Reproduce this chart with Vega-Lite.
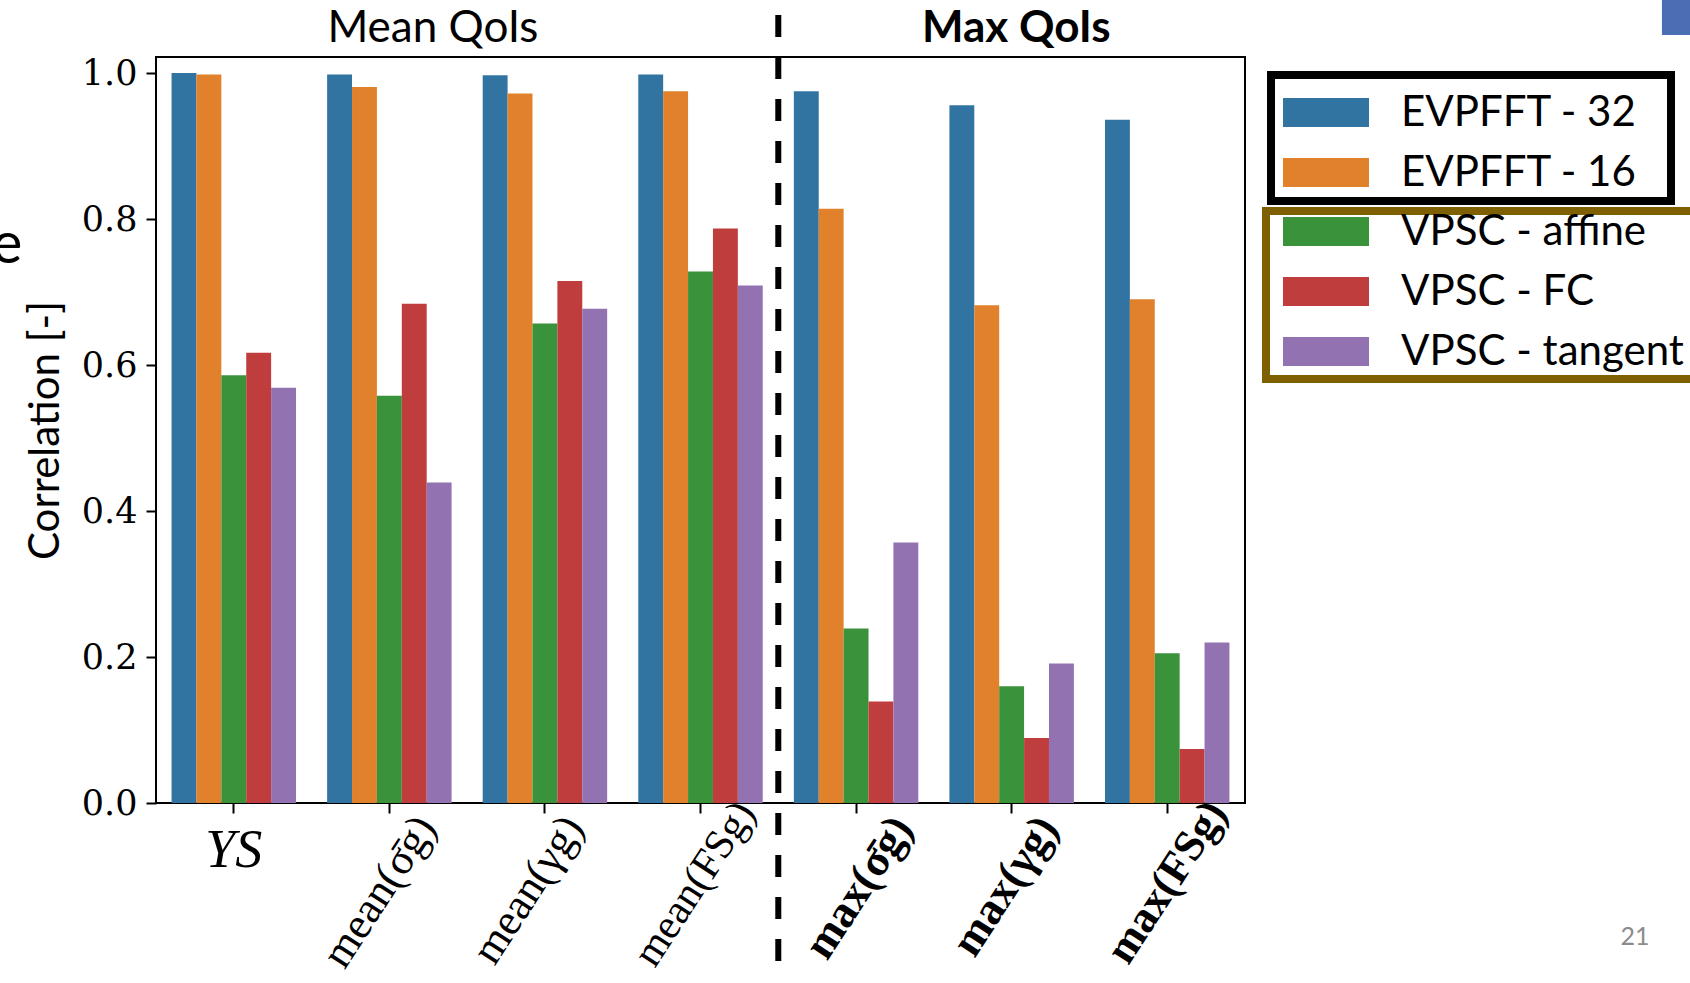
{
  "$schema": "https://vega.github.io/schema/vega-lite/v6.json",
  "autosize": {"type": "none"},
  "width": 1089,
  "height": 746,
  "padding": {"left": 156, "top": 57, "right": 445, "bottom": 180},
  "background": "white",
  "config": {
    "view": {"stroke": "black", "strokeWidth": 2},
    "axis": {"domain": false, "grid": false, "tickColor": "black", "tickWidth": 2, "tickSize": 10, "labelColor": "black", "titleColor": "black"}
  },
  "datasets": {
    "bars": [
      {"qoi": "YS", "series": "EVPFFT - 32", "family": "EVPFFT", "value": 1.0},
      {"qoi": "YS", "series": "EVPFFT - 16", "family": "EVPFFT", "value": 0.998},
      {"qoi": "YS", "series": "VPSC - affine", "family": "VPSC", "value": 0.586},
      {"qoi": "YS", "series": "VPSC - FC", "family": "VPSC", "value": 0.617},
      {"qoi": "YS", "series": "VPSC - tangent", "family": "VPSC", "value": 0.569},
      {"qoi": "mean(\u03c3\u0304g)", "series": "EVPFFT - 32", "family": "EVPFFT", "value": 0.998},
      {"qoi": "mean(\u03c3\u0304g)", "series": "EVPFFT - 16", "family": "EVPFFT", "value": 0.981},
      {"qoi": "mean(\u03c3\u0304g)", "series": "VPSC - affine", "family": "VPSC", "value": 0.558},
      {"qoi": "mean(\u03c3\u0304g)", "series": "VPSC - FC", "family": "VPSC", "value": 0.684},
      {"qoi": "mean(\u03c3\u0304g)", "series": "VPSC - tangent", "family": "VPSC", "value": 0.439},
      {"qoi": "mean(\u03b3g)", "series": "EVPFFT - 32", "family": "EVPFFT", "value": 0.997},
      {"qoi": "mean(\u03b3g)", "series": "EVPFFT - 16", "family": "EVPFFT", "value": 0.972},
      {"qoi": "mean(\u03b3g)", "series": "VPSC - affine", "family": "VPSC", "value": 0.657},
      {"qoi": "mean(\u03b3g)", "series": "VPSC - FC", "family": "VPSC", "value": 0.715},
      {"qoi": "mean(\u03b3g)", "series": "VPSC - tangent", "family": "VPSC", "value": 0.677},
      {"qoi": "mean(FSg)", "series": "EVPFFT - 32", "family": "EVPFFT", "value": 0.998},
      {"qoi": "mean(FSg)", "series": "EVPFFT - 16", "family": "EVPFFT", "value": 0.975},
      {"qoi": "mean(FSg)", "series": "VPSC - affine", "family": "VPSC", "value": 0.728},
      {"qoi": "mean(FSg)", "series": "VPSC - FC", "family": "VPSC", "value": 0.787},
      {"qoi": "mean(FSg)", "series": "VPSC - tangent", "family": "VPSC", "value": 0.709},
      {"qoi": "max(\u03c3\u0304g)", "series": "EVPFFT - 32", "family": "EVPFFT", "value": 0.975},
      {"qoi": "max(\u03c3\u0304g)", "series": "EVPFFT - 16", "family": "EVPFFT", "value": 0.814},
      {"qoi": "max(\u03c3\u0304g)", "series": "VPSC - affine", "family": "VPSC", "value": 0.239},
      {"qoi": "max(\u03c3\u0304g)", "series": "VPSC - FC", "family": "VPSC", "value": 0.139},
      {"qoi": "max(\u03c3\u0304g)", "series": "VPSC - tangent", "family": "VPSC", "value": 0.357},
      {"qoi": "max(\u03b3g)", "series": "EVPFFT - 32", "family": "EVPFFT", "value": 0.956},
      {"qoi": "max(\u03b3g)", "series": "EVPFFT - 16", "family": "EVPFFT", "value": 0.682},
      {"qoi": "max(\u03b3g)", "series": "VPSC - affine", "family": "VPSC", "value": 0.16},
      {"qoi": "max(\u03b3g)", "series": "VPSC - FC", "family": "VPSC", "value": 0.089},
      {"qoi": "max(\u03b3g)", "series": "VPSC - tangent", "family": "VPSC", "value": 0.191},
      {"qoi": "max(FSg)", "series": "EVPFFT - 32", "family": "EVPFFT", "value": 0.936},
      {"qoi": "max(FSg)", "series": "EVPFFT - 16", "family": "EVPFFT", "value": 0.69},
      {"qoi": "max(FSg)", "series": "VPSC - affine", "family": "VPSC", "value": 0.205},
      {"qoi": "max(FSg)", "series": "VPSC - FC", "family": "VPSC", "value": 0.074},
      {"qoi": "max(FSg)", "series": "VPSC - tangent", "family": "VPSC", "value": 0.22}
    ]
  },
  "layer": [
    {
      "layer": [
        {
          "data": {"name": "bars"},
          "transform": [{"filter": "datum.family === 'EVPFFT'"}],
          "mark": {"type": "bar"},
          "encoding": {
            "x": {
              "field": "qoi", "type": "nominal",
              "sort": ["YS", "mean(\u03c3\u0304g)", "mean(\u03b3g)", "mean(FSg)", "max(\u03c3\u0304g)", "max(\u03b3g)", "max(FSg)"],
              "scale": {"paddingInner": 0.2, "paddingOuter": 0.1},
              "axis": {
                "title": null, "labelFont": "Liberation Serif",
                "labelLimit": 600, "labelOverlap": false, "labelFlush": false,
                "labelAngle": {"expr": "datum.value === 'YS' ? 0 : -57"},
                "labelAlign": {"condition": {"test": "datum.value === 'YS'", "value": "center"}, "value": "right"},
                "labelBaseline": {"condition": {"test": "datum.value === 'YS'", "value": "top"}, "value": "middle"},
                "labelFontStyle": {"condition": {"test": "datum.value === 'YS'", "value": "italic"}, "value": "normal"},
                "labelFontWeight": {"condition": {"test": "indexof(datum.value, 'max') === 0", "value": "bold"}, "value": "normal"},
                "labelFontSize": {"condition": [{"test": "datum.value === 'YS'", "value": 54}, {"test": "datum.value === 'mean(FSg)'", "value": 42}, {"test": "datum.value === 'max(FSg)'", "value": 44}, {"test": "indexof(datum.value, 'max') === 0", "value": 45}], "value": 44},
                "labelPadding": {"condition": [{"test": "datum.value === 'YS'", "value": 10}, {"test": "indexof(datum.value, 'FS') > 0", "value": -8}], "value": 7},
                "labelOffset": {"condition": [
                  {"test": "datum.value === 'YS'", "value": 0},
                  {"test": "datum.value === 'mean(\u03b3g)'", "value": 29},
                  {"test": "datum.value === 'mean(FSg)'", "value": 45},
                  {"test": "datum.value === 'max(\u03c3\u0304g)'", "value": 46},
                  {"test": "datum.value === 'max(\u03b3g)'", "value": 36},
                  {"test": "datum.value === 'max(FSg)'", "value": 50}
                ], "value": 37}
              }
            },
            "xOffset": {
              "field": "series", "type": "nominal",
              "scale": {"domain": ["EVPFFT - 32", "EVPFFT - 16", "VPSC - affine", "VPSC - FC", "VPSC - tangent"], "paddingInner": 0, "paddingOuter": 0}
            },
            "y": {
              "field": "value", "type": "quantitative",
              "scale": {"domain": [0, 1.022], "nice": false, "zero": true},
              "axis": {
                "title": "Correlation [-]", "titleFont": "Lato", "titleFontSize": 42, "titleFontWeight": "normal", "titlePadding": 14,
                "values": [0, 0.2, 0.4, 0.6, 0.8, 1.0], "format": ".1f",
                "labelFont": "DejaVu Serif", "labelFontSize": 35, "labelPadding": 9
              }
            },
            "color": {
              "field": "series", "type": "nominal",
              "scale": {"domain": ["EVPFFT - 32", "EVPFFT - 16"], "range": ["#3274a1", "#e1812c"]},
              "legend": {
                "title": " ", "titleFontSize": 12, "titlePadding": 4,
                "orient": "none", "legendX": 1115, "legendY": 18,
                "strokeColor": "black", "fillColor": "white", "padding": 7, "cornerRadius": 0,
                "symbolType": "M-1,-0.337H1V0.337H-1Z", "symbolSize": 7396, "symbolStrokeWidth": 0, "symbolOffset": 5,
                "clipHeight": 29, "rowPadding": 17, "labelOffset": 32,
                "labelFont": "Lato", "labelFontSize": 42, "labelColor": "black", "labelLimit": 1000,
                "encode": {
                  "legend": {"update": {"strokeWidth": {"value": 8}}},
                  "entries": {"update": {"width": {"value": 386}}}
                }
              }
            }
          }
        },
        {
          "data": {"name": "bars"},
          "transform": [{"filter": "datum.family === 'VPSC'"}],
          "mark": {"type": "bar"},
          "encoding": {
            "x": {
              "field": "qoi", "type": "nominal",
              "sort": ["YS", "mean(\u03c3\u0304g)", "mean(\u03b3g)", "mean(FSg)", "max(\u03c3\u0304g)", "max(\u03b3g)", "max(FSg)"]
            },
            "xOffset": {"field": "series", "type": "nominal"},
            "y": {"field": "value", "type": "quantitative"},
            "color": {
              "field": "series", "type": "nominal",
              "scale": {"domain": ["VPSC - affine", "VPSC - FC", "VPSC - tangent"], "range": ["#3a923a", "#c03d3e", "#9372b2"]},
              "legend": {
                "title": null, "orient": "none", "legendX": 1110, "legendY": 154,
                "strokeColor": "#7f6000", "fillColor": "white", "padding": 6, "cornerRadius": 0,
                "symbolType": "M-1,-0.337H1V0.337H-1Z", "symbolSize": 7396, "symbolStrokeWidth": 0, "symbolOffset": 11,
                "clipHeight": 29, "rowPadding": 17, "labelOffset": 32,
                "labelFont": "Lato", "labelFontSize": 42, "labelColor": "black", "labelLimit": 1000,
                "encode": {
                  "legend": {"update": {"strokeWidth": {"value": 8}}},
                  "entries": {"update": {"width": {"value": 520}}}
                }
              }
            }
          }
        }
      ],
      "resolve": {"scale": {"color": "independent"}}
    },
    {
      "layer": [
        {
          "data": {"values": [{"xpos": 4, "ytop": 1.0795, "ybottom": -0.2178}]},
          "mark": {"type": "rule", "color": "black", "strokeWidth": 6, "strokeDash": [22, 20], "clip": false},
          "encoding": {
            "x": {"field": "xpos", "type": "quantitative", "scale": {"domain": [0, 7], "nice": false, "zero": false}, "axis": null},
            "y": {"field": "ytop", "type": "quantitative", "scale": {"domain": [0, 1.022], "nice": false}, "axis": null},
            "y2": {"field": "ybottom"}
          }
        },
        {
          "data": {"values": [{"xpos": 1.78, "ypos": 1.06, "label": "Mean QoIs"}]},
          "mark": {"type": "text", "font": "Lato", "fontSize": 44, "color": "black", "align": "center", "baseline": "middle"},
          "encoding": {
            "x": {"field": "xpos", "type": "quantitative"},
            "y": {"field": "ypos", "type": "quantitative"},
            "text": {"field": "label"}
          }
        },
        {
          "data": {"values": [{"xpos": 5.53, "ypos": 1.061, "label": "Max QoIs"}]},
          "mark": {"type": "text", "font": "Lato", "fontSize": 44, "fontWeight": "bold", "color": "black", "align": "center", "baseline": "middle"},
          "encoding": {
            "x": {"field": "xpos", "type": "quantitative"},
            "y": {"field": "ypos", "type": "quantitative"},
            "text": {"field": "label"}
          }
        },
        {
          "data": {"values": [{"xpos": 9.507, "ypos": -0.1836, "label": "21"}]},
          "mark": {"type": "text", "font": "Lato", "fontSize": 25, "color": "#8c8c8c", "align": "center", "baseline": "middle"},
          "encoding": {
            "x": {"field": "xpos", "type": "quantitative"},
            "y": {"field": "ypos", "type": "quantitative"},
            "text": {"field": "label"}
          }
        },
        {
          "data": {"values": [{"xpos": -1.055, "ypos": 0.74, "label": "e"}]},
          "mark": {"type": "text", "font": "Lato", "fontSize": 58, "color": "black", "align": "left", "baseline": "alphabetic"},
          "encoding": {
            "x": {"field": "xpos", "type": "quantitative"},
            "y": {"field": "ypos", "type": "quantitative"},
            "text": {"field": "label"}
          }
        },
        {
          "data": {"values": [{"x1": 9.68, "x2": 10.2, "y1": 1.12, "y2": 1.052}]},
          "mark": {"type": "rect", "color": "#4a6db4", "clip": false},
          "encoding": {
            "x": {"field": "x1", "type": "quantitative"},
            "x2": {"field": "x2"},
            "y": {"field": "y1", "type": "quantitative"},
            "y2": {"field": "y2"}
          }
        }
      ]
    }
  ],
  "resolve": {"scale": {"x": "independent"}, "axis": {"y": "independent"}}
}
